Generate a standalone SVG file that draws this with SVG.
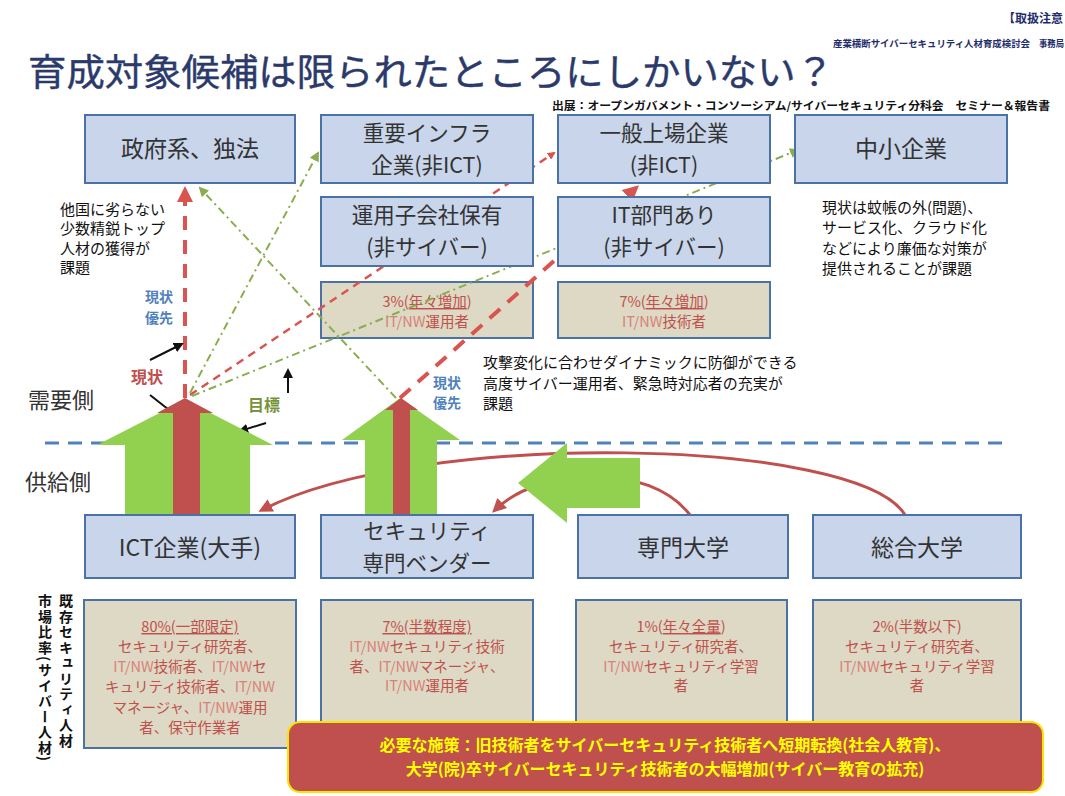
<svg xmlns="http://www.w3.org/2000/svg" width="1065" height="796" viewBox="0 0 1065 796">
<defs>
<style>
text{font-family:"Noto Sans CJK JP","Noto Sans",sans-serif;}
.bx{fill:#c8d5ea;stroke:#4a72a5;stroke-width:2;}
.bg{fill:#ddd9c4;stroke:#4a72a5;stroke-width:2;}
.lb{font-size:23px;fill:#333;text-anchor:middle;}
.l2{font-size:21.5px;}
.rt{font-size:14.5px;fill:#c0504d;text-anchor:middle;}
.nw{fill:#d9817b;}
.nt{font-size:15px;fill:#111;}
.bl{font-size:14px;fill:#4f81bd;font-weight:bold;}
.rdt{stroke:#d9534f;fill:none;}
.gdd{stroke:#8aad4f;fill:none;stroke-width:2;stroke-dasharray:8 4 2 4;}
.blk{stroke:#111;stroke-width:2;fill:none;}
</style>
<marker id="mr" markerWidth="8" markerHeight="8" refX="6" refY="4" orient="auto" markerUnits="userSpaceOnUse"><path d="M0,0 L8,4 L0,8 z" fill="#d9534f"/></marker>
<marker id="mrb" markerWidth="16" markerHeight="16" refX="12" refY="8" orient="auto" markerUnits="userSpaceOnUse"><path d="M0,0 L16,8 L0,16 z" fill="#d9534f"/></marker>
<marker id="mg" markerWidth="10" markerHeight="10" refX="8" refY="5" orient="auto" markerUnits="userSpaceOnUse"><path d="M0,0 L10,5 L0,10 z" fill="#8aad4f"/></marker>
<marker id="mk" markerWidth="10" markerHeight="10" refX="8" refY="5" orient="auto" markerUnits="userSpaceOnUse"><path d="M0,0 L10,5 L0,10 z" fill="#111"/></marker>
<marker id="mc" markerWidth="14" markerHeight="14" refX="10" refY="7" orient="auto" markerUnits="userSpaceOnUse"><path d="M0,0 L14,7 L0,14 z" fill="#c0504d"/></marker>
</defs>
<rect width="1065" height="796" fill="#fff"/>

<g id="header">
<text x="1003" y="23" font-size="12" font-weight="bold" fill="#1f2d6b">【取扱注意</text>
<text x="833" y="47" font-size="9.5" font-weight="bold" fill="#1f2d6b" textLength="197" lengthAdjust="spacingAndGlyphs">産業横断サイバーセキュリティ人材育成検討会</text>
<text x="1039" y="47" font-size="9" font-weight="bold" fill="#1f2d6b" textLength="25" lengthAdjust="spacingAndGlyphs">事務局</text>
<text x="28" y="86" font-size="37" fill="#2b3a6b" stroke="#2b3a6b" stroke-width="0.4" textLength="806" lengthAdjust="spacingAndGlyphs">育成対象候補は限られたところにしかいない？</text>
<text x="552" y="110" font-size="11" font-weight="bold" fill="#111" textLength="498" lengthAdjust="spacingAndGlyphs">出展：オープンガバメント・コンソーシアム/サイバーセキュリティ分科会　セミナー＆報告書</text>
</g>

<g id="demand-supply">
<line x1="45" y1="443" x2="1010" y2="443" stroke="#4f81bd" stroke-width="3" stroke-dasharray="14 9"/>
<text x="28" y="408" font-size="22" fill="#333">需要側</text>
<text x="25" y="490" font-size="22" fill="#333">供給側</text>
</g>

<g id="n-3pct"><rect class="bg" x="321" y="282" width="212" height="56"/><text class="rt" x="427" y="307">3%(<tspan text-decoration="underline">年々増加</tspan>)</text><text class="rt" x="427" y="327"><tspan class="nw">IT/NW</tspan>運用者</text></g>
<g id="n-7pct"><rect class="bg" x="558" y="282" width="212" height="56"/><text class="rt" x="664" y="307">7%(<tspan text-decoration="underline">年々増加</tspan>)</text><text class="rt" x="664" y="327"><tspan class="nw">IT/NW</tspan>技術者</text></g>

<g id="connectors">
<line x1="185" y1="398" x2="185" y2="190" class="rdt" stroke-width="4" stroke-dasharray="14 10" marker-end="url(#mrb)"/>
<line x1="190" y1="395" x2="554" y2="153" class="rdt" stroke-width="2.5" stroke-dasharray="8 6" marker-end="url(#mr)"/>
<line x1="400" y1="398" x2="636" y2="188" class="rdt" stroke-width="4" stroke-dasharray="14 10" marker-end="url(#mrb)"/>
<line x1="190" y1="393" x2="318" y2="153" class="gdd" marker-end="url(#mg)"/>
<line x1="192" y1="396" x2="798" y2="150" class="gdd" marker-end="url(#mg)"/>
<line x1="396" y1="398" x2="200" y2="188" class="gdd" marker-end="url(#mg)"/>
<path d="M905,515 C860,438 420,428 262,510" stroke="#c0504d" stroke-width="3" fill="none" marker-end="url(#mc)"/>
<path d="M690,515 C650,462 540,466 495,510" stroke="#c0504d" stroke-width="3" fill="none" marker-end="url(#mc)"/>
<line x1="150" y1="360" x2="182" y2="344" class="blk" marker-end="url(#mk)"/>
<line x1="150" y1="395" x2="178" y2="417" class="blk" marker-end="url(#mk)"/>
<line x1="266" y1="423" x2="240" y2="431" class="blk" marker-end="url(#mk)"/>
<line x1="288" y1="393" x2="288" y2="370" class="blk" marker-end="url(#mk)"/>
</g>

<g id="big-arrows">
<path d="M125,515 L125,445 L97,445 L185,400 L273,445 L250,445 L250,515 Z" fill="#92d050"/>
<path d="M173,515 L173,413 L157,413 L185,398 L213,413 L200,413 L200,515 Z" fill="#c0504d"/>
<path d="M365,515 L365,440 L342,440 L400,398 L460,440 L437,440 L437,515 Z" fill="#92d050"/>
<path d="M393,515 L393,410 L385,410 L401,398 L418,410 L410,410 L410,515 Z" fill="#c0504d"/>
<path d="M640,458 L567,458 L567,443 L518,483 L567,523 L567,508 L640,508 Z" fill="#92d050"/>
</g>

<g id="n-gov"><rect class="bx" x="85" y="115" width="210" height="68"/><text class="lb" x="190" y="157">政府系、独法</text></g>
<g id="n-infra"><rect class="bx" x="321" y="115" width="212" height="68"/><text class="lb l2" x="427" y="141">重要インフラ</text><text class="lb l2" x="427" y="172.5">企業(非ICT)</text></g>
<g id="n-listed"><rect class="bx" x="558" y="115" width="212" height="68"/><text class="lb l2" x="664" y="141">一般上場企業</text><text class="lb l2" x="664" y="172.5">(非ICT)</text></g>
<g id="n-sme"><rect class="bx" x="795" y="115" width="212" height="68"/><text class="lb" x="901" y="157">中小企業</text></g>
<g id="n-subsid"><rect class="bx" x="321" y="197" width="212" height="69"/><text class="lb l2" x="427" y="223">運用子会社保有</text><text class="lb l2" x="427" y="254.5">(非サイバー)</text></g>
<g id="n-itdept"><rect class="bx" x="558" y="197" width="212" height="69"/><text class="lb l2" x="664" y="223">IT部門あり</text><text class="lb l2" x="664" y="254.5">(非サイバー)</text></g>

<g id="notes">
<text class="nt"><tspan x="60" y="215">他国に劣らない</tspan><tspan x="60" y="234">少数精鋭トップ</tspan><tspan x="60" y="254">人材の獲得が</tspan><tspan x="60" y="273">課題</tspan></text>
<text class="nt"><tspan x="822" y="213">現状は蚊帳の外(問題)、</tspan><tspan x="822" y="233">サービス化、クラウド化</tspan><tspan x="822" y="254">などにより廉価な対策が</tspan><tspan x="822" y="274">提供されることが課題</tspan></text>
<text class="nt" font-size="16"><tspan x="483" y="368">攻撃変化に合わせダイナミックに防御ができる</tspan><tspan x="483" y="389">高度サイバー運用者、緊急時対応者の充実が</tspan><tspan x="483" y="409">課題</tspan></text>
<text class="bl"><tspan x="145" y="302">現状</tspan><tspan x="145" y="323">優先</tspan></text>
<text class="bl"><tspan x="433" y="388">現状</tspan><tspan x="433" y="408">優先</tspan></text>
<text x="131" y="383" font-size="16" font-weight="bold" fill="#c0504d">現状</text>
<text x="248" y="411" font-size="16" font-weight="bold" fill="#77933c">目標</text>
<text x="66" y="594" font-size="14" font-weight="bold" fill="#111" style="writing-mode:vertical-rl" letter-spacing="1.5">既存セキュリティ人材</text>
<text x="45" y="594" font-size="14" font-weight="bold" fill="#111" style="writing-mode:vertical-rl" letter-spacing="1.5">市場比率(サイバー人材)</text>
</g>

<g id="n-ict"><rect class="bx" x="85" y="515" width="210" height="63"/><text class="lb" x="190" y="556">ICT企業(大手)</text></g>
<g id="n-vendor"><rect class="bx" x="321" y="515" width="212" height="63"/><text class="lb l2" x="427" y="539">セキュリティ</text><text class="lb l2" x="427" y="570.5">専門ベンダー</text></g>
<g id="n-tech-univ"><rect class="bx" x="578" y="515" width="210" height="63"/><text class="lb" x="683" y="556">専門大学</text></g>
<g id="n-univ"><rect class="bx" x="813" y="515" width="208" height="63"/><text class="lb" x="917" y="556">総合大学</text></g>

<g id="n-80"><rect class="bg" x="84" y="600" width="212" height="148"/>
<text class="rt"><tspan x="190" y="632"><tspan text-decoration="underline">80%(一部限定)</tspan></tspan><tspan x="190" y="652">セキュリティ研究者、</tspan><tspan x="190" y="672"><tspan class="nw">IT/NW</tspan>技術者、<tspan class="nw">IT/NW</tspan>セ</tspan><tspan x="190" y="692">キュリティ技術者、<tspan class="nw">IT/NW</tspan></tspan><tspan x="190" y="713">マネージャ、<tspan class="nw">IT/NW</tspan>運用</tspan><tspan x="190" y="733">者、保守作業者</tspan></text></g>
<g id="n-7b"><rect class="bg" x="321" y="600" width="212" height="130"/>
<text class="rt"><tspan x="427" y="632"><tspan text-decoration="underline">7%(半数程度)</tspan></tspan><tspan x="427" y="652"><tspan class="nw">IT/NW</tspan>セキュリティ技術</tspan><tspan x="427" y="672">者、<tspan class="nw">IT/NW</tspan>マネージャ、</tspan><tspan x="427" y="691"><tspan class="nw">IT/NW</tspan>運用者</tspan></text></g>
<g id="n-1"><rect class="bg" x="576" y="600" width="211" height="130"/>
<text class="rt"><tspan x="681" y="632">1%(<tspan text-decoration="underline">年々全量</tspan>)</tspan><tspan x="681" y="652">セキュリティ研究者、</tspan><tspan x="681" y="672"><tspan class="nw">IT/NW</tspan>セキュリティ学習</tspan><tspan x="681" y="691">者</tspan></text></g>
<g id="n-2"><rect class="bg" x="813" y="600" width="208" height="130"/>
<text class="rt"><tspan x="917" y="632">2%(半数以下)</tspan><tspan x="917" y="652">セキュリティ研究者、</tspan><tspan x="917" y="672"><tspan class="nw">IT/NW</tspan>セキュリティ学習</tspan><tspan x="917" y="691">者</tspan></text></g>

<g id="n-policy"><rect x="288" y="722" width="755" height="70" rx="12" fill="#c0504d" stroke="#f5e600" stroke-width="2"/>
<text x="665" y="751" font-size="16" font-weight="bold" fill="#ffff00" text-anchor="middle">必要な施策：旧技術者をサイバーセキュリティ技術者へ短期転換(社会人教育)、</text>
<text x="665" y="775" font-size="16" font-weight="bold" fill="#ffff00" text-anchor="middle">大学(院)卒サイバーセキュリティ技術者の大幅増加(サイバー教育の拡充)</text></g>
</svg>
